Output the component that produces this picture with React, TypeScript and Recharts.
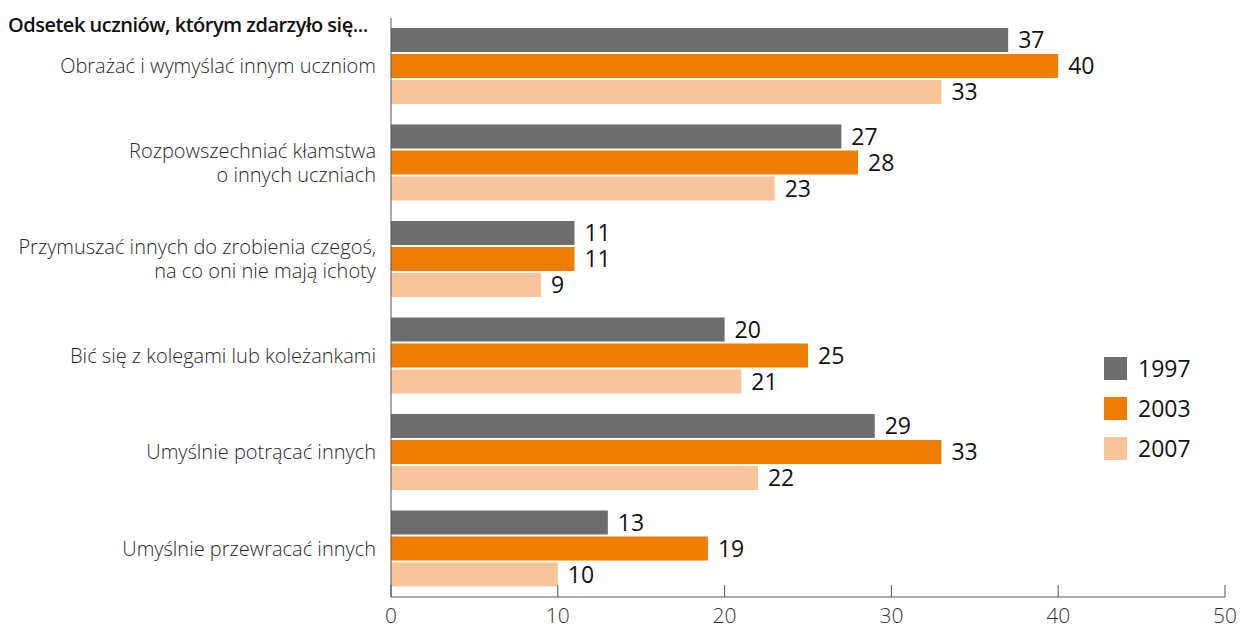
import { BarChart, Bar, XAxis, YAxis, LabelList } from 'recharts';

const categories = [
  ['Obrażać i wymyślać innym uczniom'],
  ['Rozpowszechniać kłamstwa', 'o innych uczniach'],
  ['Przymuszać innych do zrobienia czegoś,', 'na co oni nie mają ichoty'],
  ['Bić się z kolegami lub koleżankami'],
  ['Umyślnie potrącać innych'],
  ['Umyślnie przewracać innych'],
];
const values1997 = [37, 27, 11, 20, 29, 13];
const values2003 = [40, 28, 11, 25, 33, 19];
const values2007 = [33, 23, 9, 21, 22, 10];
const xTicks = [0, 10, 20, 30, 40, 50];

const SERIES = [
  { key: 'y1997', name: '1997', color: '#6d6d6d' },
  { key: 'y2003', name: '2003', color: '#ef7d00' },
  { key: 'y2007', name: '2007', color: '#f9c499' },
];

const data = categories.map((lines, i) => ({
  label: lines.join('\n'),
  y1997: values1997[i],
  y2003: values2003[i],
  y2007: values2007[i],
}));

const FONT = '"Open Sans", "Noto Sans", sans-serif';

function CategoryTick({ x, y, payload }: any) {
  const lines = String(payload.value).split('\n');
  const start = -((lines.length - 1) * 24) / 2;
  return (
    <text x={x} y={y} textAnchor="end" fill="#2a2a2a" fontSize={20} fontWeight={300} fontFamily={FONT}>
      {lines.map((l, i) => (
        <tspan key={i} x={x} dy={i === 0 ? start + 7 : 24}>
          {l}
        </tspan>
      ))}
    </text>
  );
}

function ValueTick({ x, y, payload }: any) {
  return (
    <g>
      <line x1={x} x2={x} y1={y - 12} y2={y} stroke="#555" strokeWidth={1} />
      <text x={x} y={y + 26} textAnchor="middle" fill="#333" fontSize={21} fontWeight={300} fontFamily={FONT}>
        {payload.value}
      </text>
    </g>
  );
}

function LegendBox() {
  return (
    <div style={{ position: 'absolute', left: 1104, top: 348, fontFamily: FONT }}>
      {SERIES.map((s) => (
        <div key={s.key} style={{ display: 'flex', alignItems: 'center', height: 40 }}>
          <div style={{ width: 23, height: 23, background: s.color, marginRight: 11 }} />
          <span style={{ fontSize: 23, color: '#111' }}>{s.name}</span>
        </div>
      ))}
    </div>
  );
}

export default function App() {
  return (
    <div style={{ position: 'absolute', left: 0, top: 0, width: 1245, height: 630, background: '#fff' }}>
      <BarChart
        width={1245}
        height={630}
        data={data}
        layout="vertical"
        margin={{ top: 18, right: 20, left: 0, bottom: 0 }}
        barSize={24}
        barGap={2}
      >
        <XAxis
          type="number"
          domain={[0, 50]}
          ticks={xTicks}
          height={33}
          axisLine={{ stroke: '#555' }}
          tickLine={false}
          tickSize={0}
          tickMargin={0}
          tick={<ValueTick />}
          interval={0}
        />
        <YAxis
          type="category"
          dataKey="label"
          width={391}
          axisLine={{ stroke: '#555' }}
          tickLine={false}
          tickSize={0}
          tickMargin={15}
          tick={<CategoryTick />}
          interval={0}
        />
        {SERIES.map((s) => (
          <Bar key={s.key} dataKey={s.key} name={s.name} fill={s.color} isAnimationActive={false}>
            <LabelList
              dataKey={s.key}
              position="right"
              offset={10}
              fill="#111"
              fontSize={23}
              fontFamily={FONT}
            />
          </Bar>
        ))}
      </BarChart>
      <div
        style={{
          position: 'absolute',
          left: 8,
          top: 11,
          fontFamily: FONT,
          fontSize: 20,
          fontWeight: 600,
          color: '#111',
          letterSpacing: -0.5,
        }}
      >
        Odsetek uczniów, którym zdarzyło się...
      </div>
      <LegendBox />
    </div>
  );
}
